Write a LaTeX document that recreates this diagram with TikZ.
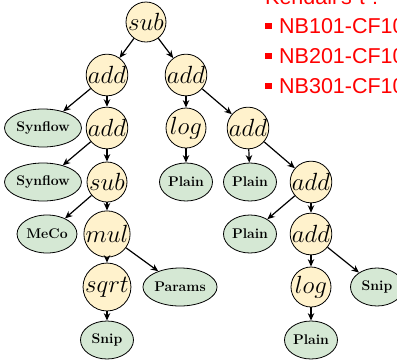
\documentclass[tikz,border=0pt]{standalone}
\usepackage{fontspec}
\newfontfamily\redsans{Liberation Sans}
\usetikzlibrary{shapes.geometric,arrows.meta}
\definecolor{opfill}{HTML}{FFF2CC}
\definecolor{leaffill}{HTML}{D5E8D4}
\definecolor{txtred}{HTML}{FF0000}
\tikzset{
  opnode/.style={circle,draw=black,line width=0.8pt,fill=opfill,minimum size=40pt,inner sep=0pt,font=\fontsize{23}{26}\selectfont},
  leafnode/.style={ellipse,draw=black,line width=0.8pt,fill=leaffill,minimum width=53pt,minimum height=38pt,inner sep=0.5pt,font=\fontsize{14}{16}\selectfont\bfseries},
  edge/.style={-{Stealth[length=7.5pt,width=6.5pt]},line width=1.2pt},
  redline/.style={anchor=base west,text=txtred,font=\redsans\fontsize{21.5}{24}\selectfont,inner sep=0pt},
}
\begin{document}
\begin{tikzpicture}[x=1pt,y=-1pt]
\useasboundingbox (0,0) rectangle (397,360);
\node[opnode] (n1) at (146,22) {$sub$};
\node[opnode] (n2) at (107,75) {$add$};
\node[opnode] (n3) at (186,75) {$add$};
\node[leafnode,minimum width=64pt] (n4) at (43,128) {Synflow};
\node[opnode] (n5) at (107,128) {$add$};
\node[opnode] (n6) at (186,128) {$log$};
\node[opnode] (n7) at (248,128) {$add$};
\node[leafnode,minimum width=64pt] (n8) at (43,182) {Synflow};
\node[opnode] (n9) at (107,182) {$sub$};
\node[leafnode] (n10) at (186,182) {Plain};
\node[leafnode] (n11) at (250,182) {Plain};
\node[opnode] (n12) at (311,182) {$add$};
\node[leafnode] (n13) at (47,234) {MeCo};
\node[opnode] (n14) at (107,234) {$mul$};
\node[leafnode] (n15) at (250,234) {Plain};
\node[opnode] (n16) at (311,234) {$add$};
\node[opnode] (n17) at (107,287) {$sqrt$};
\node[leafnode] (n18) at (180,287) {Params};
\node[opnode] (n19) at (311,287) {$log$};
\node[leafnode] (n20) at (377,287) {Snip};
\node[leafnode] (n21) at (107,340) {Snip};
\node[leafnode] (n22) at (311,340) {Plain};
\foreach \a/\b in {n1/n2,n1/n3,n2/n4,n2/n5,n3/n6,n3/n7,n5/n8,n5/n9,n6/n10,n7/n11,n7/n12,n9/n13,n9/n14,n12/n15,n12/n16,n14/n17,n14/n18,n16/n19,n16/n20,n17/n21,n19/n22}
  \draw[edge] (\a) -- (\b);
\node[redline] (t0) at (265,4) {Kendall's τ :};
\node[redline] (t1) at (279,33) {NB101-CF10};
\node[redline] (t2) at (279,63) {NB201-CF10};
\node[redline] (t3) at (279,93) {NB301-CF10};
\foreach \t in {t1,t2,t3}
  \fill[txtred] ([xshift=-14pt,yshift=4pt]\t.base west) rectangle ++(6.5,-6.5);
\end{tikzpicture}
\end{document}
